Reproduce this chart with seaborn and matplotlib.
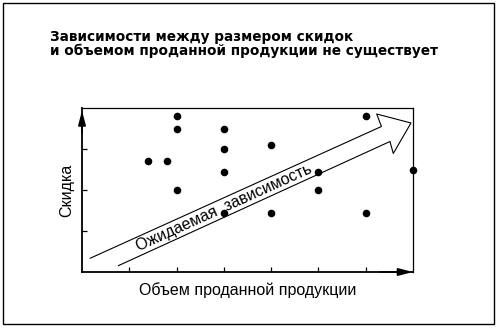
import numpy as np
import pandas as pd
import matplotlib
matplotlib.use("Agg")
import matplotlib.pyplot as plt
import seaborn as sns
from matplotlib.patches import Rectangle

# --- data ---
sales_volume = [1.4, 1.8, 2.0, 2.0, 2.0, 3.0, 3.0, 3.0, 3.0, 4.0, 4.0, 5.0, 5.0, 6.0, 6.0, 7.0]
discount     = [2.7, 2.7, 3.8, 3.5, 2.0, 3.5, 3.0, 2.45, 1.45, 3.1, 1.45, 2.45, 2.0, 3.8, 1.45, 2.5]
x_ticks = [1, 2, 3, 4, 5, 6]
y_ticks = [1, 2, 3]
title_text = "Зависимости между размером скидок\nи объемом проданной продукции не существует"
x_label = "Объем проданной продукции"
y_label = "Скидка"
arrow_label = "Ожидаемая  зависимость"
# hollow "expected relationship" arrow outline (data units)
arrow_x = [0.17, 6.333, 6.232, 6.957, 6.583, 6.513, 0.768]
arrow_y = [0.334, 3.549, 3.854, 3.634, 2.890, 3.183, 0.154]
arrow_label_pos = (3.0, 1.56)

df = pd.DataFrame({"x": sales_volume, "y": discount})

sns.set_style("white")
plt.rcParams["font.family"] = ["Liberation Sans", "DejaVu Sans"]
plt.rcParams["text.color"] = "black"
plt.rcParams["axes.labelcolor"] = "black"

fig = plt.figure(figsize=(4.98, 3.28), dpi=100)
ax = fig.add_axes([82 / 498, 1 - 272 / 328, 331 / 498, 164 / 328])

sns.scatterplot(data=df, x="x", y="y", ax=ax, color="black", s=30,
                edgecolor="black", linewidth=0, clip_on=False, zorder=5)

ax.set_xlim(0, 7)
ax.set_ylim(0, 4)
ax.set_xticks(x_ticks)
ax.set_yticks(y_ticks)
ax.set_xticklabels([])
ax.set_yticklabels([])
ax.tick_params(axis="both", direction="in", length=3.5, width=0.9, color="black",
               bottom=True, left=True, top=False, right=False)
for side in ["left", "bottom"]:
    ax.spines[side].set_linewidth(1.3)
    ax.spines[side].set_color("black")
for side in ["top", "right"]:
    ax.spines[side].set_linewidth(0.9)
    ax.spines[side].set_color("black")

ax.set_xlabel(x_label, fontsize=11.5, labelpad=4, color="black")
ax.set_ylabel(y_label, fontsize=11.5, labelpad=2, color="black")

# axis arrowheads
ax.annotate("", xy=(0, 0.985), xytext=(0, 0.85), xycoords="axes fraction",
            arrowprops=dict(arrowstyle="-|>,head_length=0.85,head_width=0.22",
                            color="black", lw=1.3, shrinkA=0, shrinkB=0))
ax.annotate("", xy=(1.0, 0), xytext=(0.9, 0), xycoords="axes fraction",
            arrowprops=dict(arrowstyle="-|>,head_length=0.85,head_width=0.22",
                            color="black", lw=1.3, shrinkA=0, shrinkB=0))

# expected relationship arrow
ax.plot(arrow_x, arrow_y, color="black", lw=0.8, clip_on=False, zorder=3)
ax.text(arrow_label_pos[0], arrow_label_pos[1], arrow_label, fontsize=11.5,
        color="black", rotation=24.4, rotation_mode="anchor",
        ha="center", va="center", zorder=4)

# title (tight line spacing)
fig.text(50 / 498, 1 - 30.5 / 328, title_text, fontsize=9.8,
         fontweight="bold", family=["DejaVu Sans"], color="black",
         ha="left", va="top", linespacing=0.95)

# outer frame
fig.patches.append(Rectangle((2.5 / 498, 4.5 / 328), 491.5 / 498, 321 / 328,
                             transform=fig.transFigure, fill=False,
                             edgecolor="black", lw=1.0))

fig.savefig("out.png", dpi=100)
